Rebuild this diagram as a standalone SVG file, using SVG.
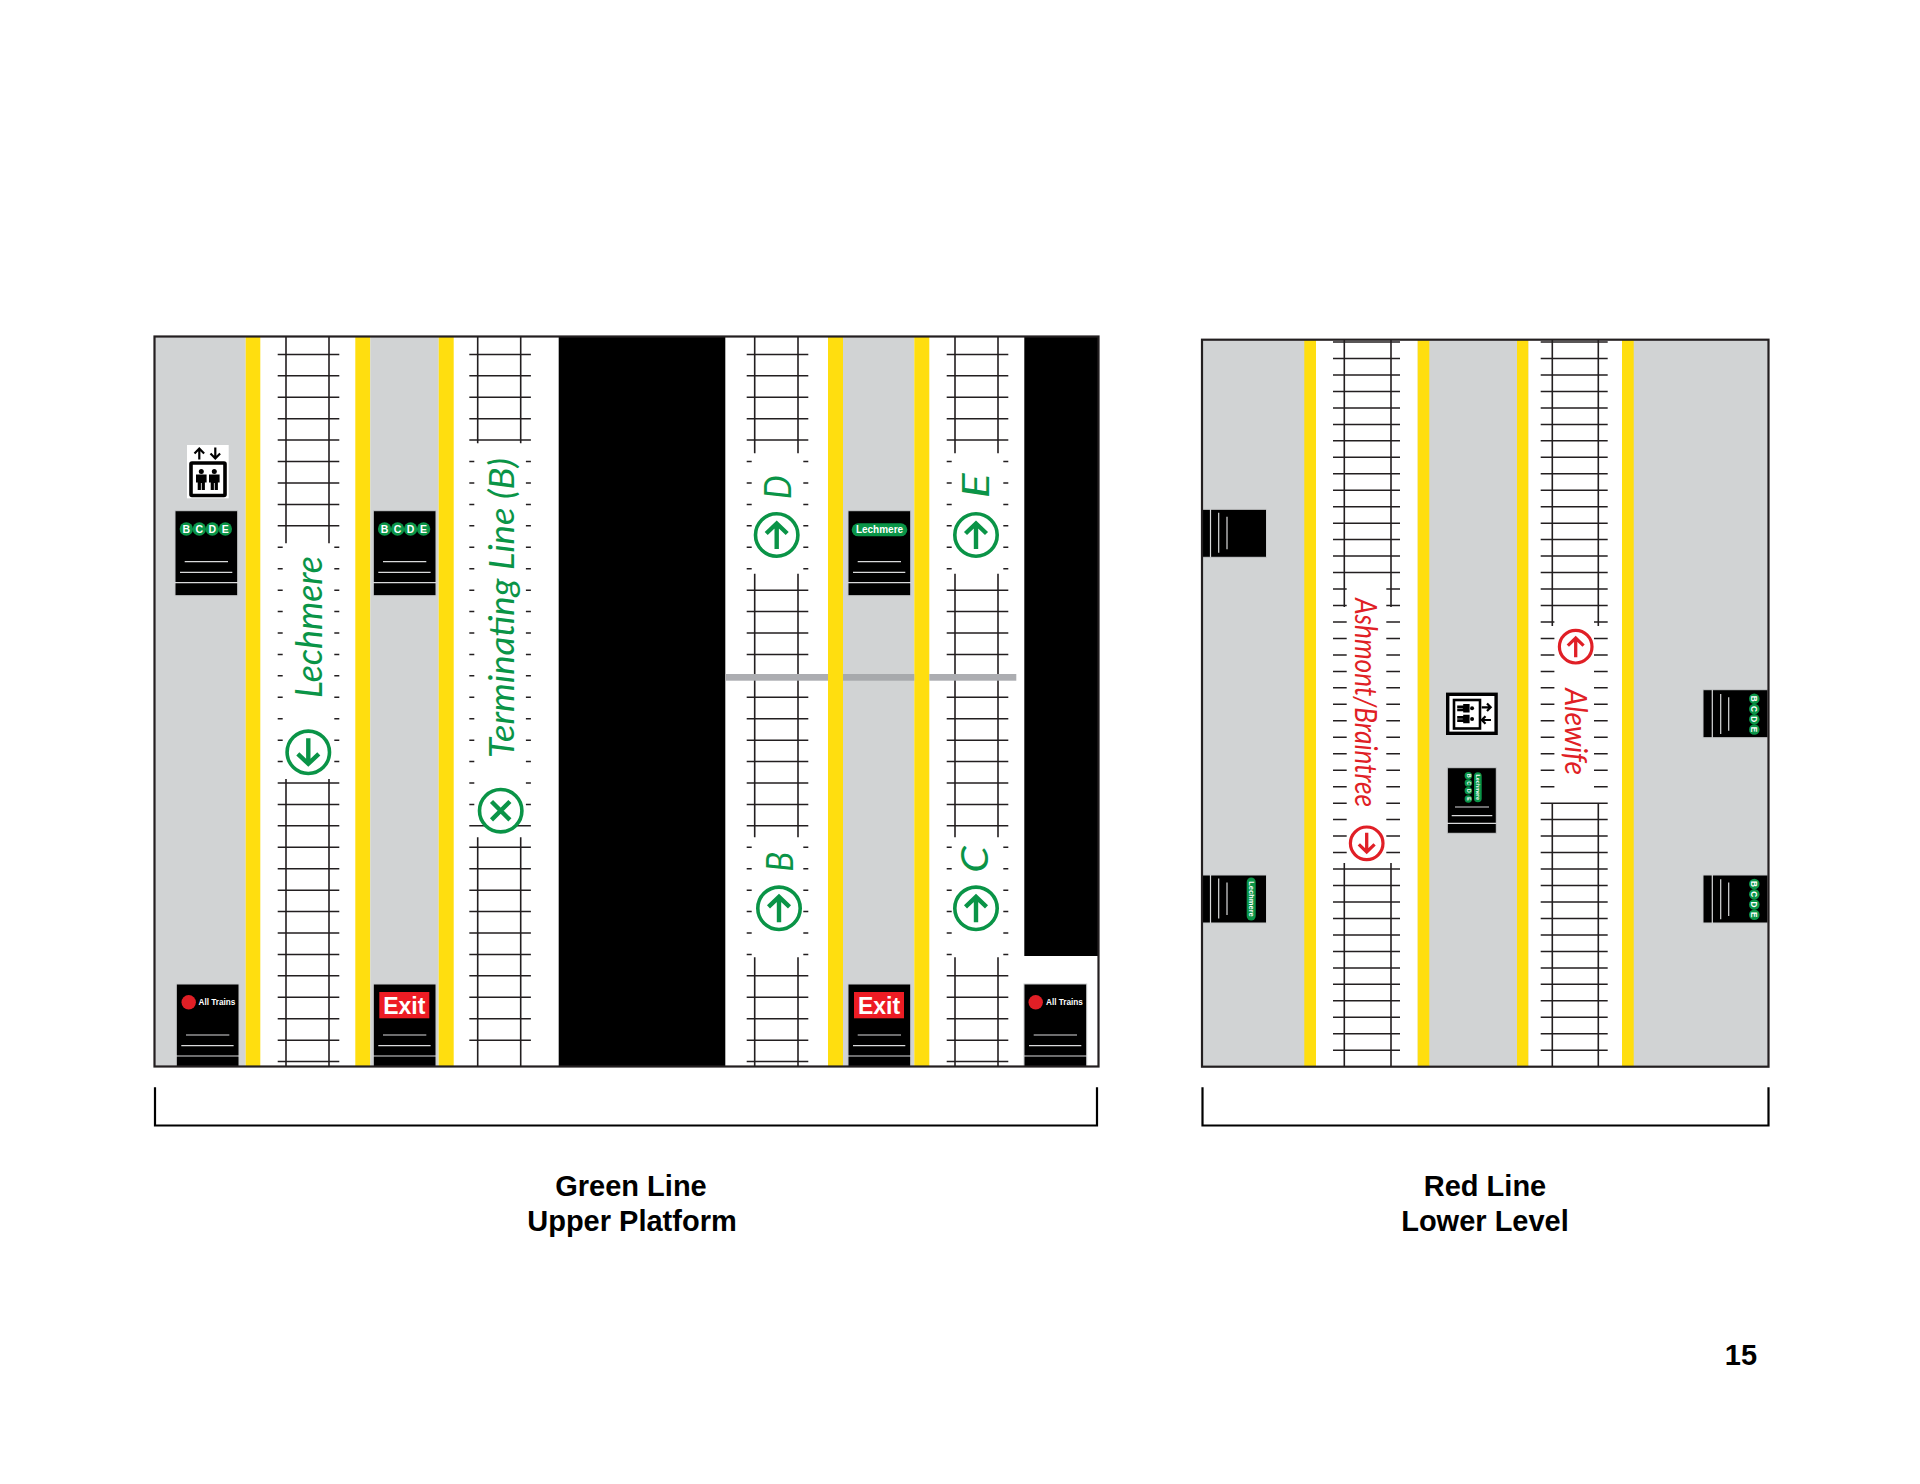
<svg xmlns="http://www.w3.org/2000/svg" xmlns:xlink="http://www.w3.org/1999/xlink" width="1920" height="1484" viewBox="0 0 1920 1484">
<style>
.grey{fill:#d1d3d4}.yel{fill:#ffde0f}.blk{fill:#000}.wht{fill:#fff}
.ties{fill:none;stroke:#231f20;stroke-width:1.5}
.rail{fill:none;stroke:#231f20;stroke-width:1.6}
.body{fill:#000;stroke:#c8cacb;stroke-width:1}
.sl{stroke:#d9dadb;stroke-width:1.2;fill:none}
.border{fill:none;stroke:#231f20;stroke-width:2.2}
.hand{font-family:"Lato","Noto Sans",sans-serif;font-style:italic}
.g{fill:#0a9447}.r{fill:#e01f26}
.ring-g{fill:#fff;stroke:#0a9447;stroke-width:3.6}
.ring-r{fill:#fff;stroke:#e01f26;stroke-width:3.2}
.ar-g{fill:none;stroke:#0a9447;stroke-width:4.4}
.ar-r{fill:none;stroke:#e01f26;stroke-width:4.4}
.lab{font-family:"Liberation Sans",Arial,sans-serif;font-weight:bold;fill:#000;font-size:29px;text-anchor:middle}
.sg{font-family:"Liberation Sans",Arial,sans-serif;font-weight:bold;fill:#fff;text-anchor:middle}
.ic{fill:none;stroke:#000;stroke-width:2.2}
</style>
<defs>
<g id="up"><path d="M0 14V-11M-10.5 -1.5L0 -11.500L10.500 -1.500"/></g>
<g id="person"><circle cx="0" cy="2.400" r="2.500" fill="#000"/><path d="M-5.300 5.500h10.600v8h-1.700V21h-3.200v-7h-.8v7h-3.200V13.500h-1.700z" fill="#000"/></g>
<g id="bcde"><circle cx="0" cy="0" r="6.700" class="g"/><circle cx="13" cy="0" r="6.700" class="g"/><circle cx="26" cy="0" r="6.700" class="g"/><circle cx="39" cy="0" r="6.700" class="g"/>
<text x="0" y="3.700" font-size="10.500" class="sg">B</text><text x="13" y="3.700" font-size="10.500" class="sg">C</text><text x="26" y="3.700" font-size="10.500" class="sg">D</text><text x="39" y="3.700" font-size="10.500" class="sg">E</text></g>
<g id="sign"><rect class="body" x="0" y="0" width="62.700" height="85"/><path class="sl" d="M-.5 72H63.200M9.700 51H53M5 61.600H57.300"/></g>
<g id="signb"><rect class="body" x="0" y="0" width="62.700" height="82.500"/><path class="sl" d="M-.5 72H63.200M9.700 51H53M5 61.600H57.300"/></g>
<g id="signh"><rect class="body" x="0" y="0" width="64" height="48"/><path class="sl" d="M8 0V48M16.200 3.500V43.500M24.500 7.500V40"/></g>
<g id="signh2"><rect class="body" x="0" y="0" width="65" height="48"/><path class="sl" d="M9.300 0V48M17.700 4.300V44.300M25.700 7.500V41"/></g>
</defs>

<g id="green-platform">
<rect class="wht" x="155" y="337" width="943.500" height="729"/>
<rect class="grey" x="155" y="337" width="90.700" height="729"/>
<rect class="yel" x="245.700" y="337" width="14.600" height="729"/>
<rect class="yel" x="355.300" y="337" width="15" height="729"/>
<rect class="grey" x="370.300" y="337" width="68.400" height="729"/>
<rect class="yel" x="438.700" y="337" width="15" height="729"/>
<rect class="blk" x="558.700" y="337" width="166.600" height="729"/>
<rect class="yel" x="828" y="337" width="15" height="729"/>
<rect class="grey" x="843" y="337" width="71.300" height="729"/>
<rect class="yel" x="914.300" y="337" width="15" height="729"/>
<rect class="blk" x="1024.300" y="337" width="74.200" height="619"/>
</g>

<g id="green-tracks">
<path class="ties" transform="translate(277.700 354.400)" d="M0 0h61.600m-61.600 21.430h61.600m-61.600 21.430h61.600m-61.600 21.430h61.600m-61.600 21.430h61.600m-61.600 21.430h61.600m-61.600 21.430h61.600m-61.600 21.430h61.600m-61.600 21.430h61.600m-61.600 21.430h5m51.600 0h5m-61.600 21.430h5m51.600 0h5m-61.600 21.430h5m51.600 0h5m-61.600 21.430h5m51.600 0h5m-61.600 21.430h5m51.600 0h5m-61.600 21.430h5m51.600 0h5m-61.600 21.430h5m51.600 0h5m-61.600 21.430h5m51.600 0h5m-61.600 21.430h5m51.600 0h5m-61.600 21.430h5m51.600 0h5m-61.600 21.430h5m51.600 0h5m-61.600 21.430h61.600m-61.600 21.430h61.600m-61.600 21.430h61.600m-61.600 21.430h61.600m-61.600 21.430h61.600m-61.600 21.430h61.600m-61.600 21.430h61.600m-61.600 21.430h61.600m-61.600 21.430h61.600m-61.600 21.430h61.600m-61.600 21.430h61.600m-61.600 21.430h61.600m-61.600 21.430h61.600m-61.600 21.430h61.600"/>
<path class="rail" d="M286 337V543.300M329 337V543.300M286 779V1066M329 779V1066"/>

<path class="ties" transform="translate(469.300 354.400)" d="M0 0h61.600m-61.600 21.430h61.600m-61.600 21.430h61.600m-61.600 21.430h61.600m-61.600 21.430h61.600m-61.600 21.430h5m51.600 0h5m-61.600 21.430h5m51.600 0h5m-61.600 21.430h5m51.600 0h5m-61.600 21.430h5m51.600 0h5m-61.600 21.430h5m51.600 0h5m-61.600 21.430h5m51.600 0h5m-61.600 21.430h5m51.600 0h5m-61.600 21.430h5m51.600 0h5m-61.600 21.430h5m51.600 0h5m-61.600 21.430h5m51.600 0h5m-61.600 21.430h5m51.600 0h5m-61.600 21.430h5m51.600 0h5m-61.600 21.430h5m51.600 0h5m-61.600 21.430h5m51.600 0h5m-61.600 21.430h5m51.600 0h5m-61.600 21.430h5m51.600 0h5m-61.600 21.430h5m51.600 0h5m-61.600 21.430h61.600m-61.600 21.430h61.600m-61.600 21.430h61.600m-61.600 21.430h61.600m-61.600 21.430h61.600m-61.600 21.430h61.600m-61.600 21.430h61.600m-61.600 21.430h61.600m-61.600 21.430h61.600m-61.600 21.430h61.600m-61.600 21.430h61.600"/>
<path class="rail" d="M477.700 337V443.300M520.700 337V443.300M477.700 837.300V1066M520.700 837.300V1066"/>

<path id="t3" class="ties" transform="translate(746.700 354.400)" d="M0 0h61.600m-61.600 21.430h61.600m-61.600 21.430h61.600m-61.600 21.430h61.600m-61.600 21.430h61.600m-61.600 21.430h5m51.600 0h5m-61.600 21.430h5m51.600 0h5m-61.600 21.430h5m51.600 0h5m-61.600 21.430h5m51.600 0h5m-61.600 21.430h5m51.600 0h5m-61.600 21.430h5m51.600 0h5m-61.600 21.430h61.600m-61.600 21.430h61.600m-61.600 21.430h61.600m-61.600 21.430h61.600m-61.600 21.430h61.600m-61.600 21.430h61.600m-61.600 21.430h61.600m-61.600 21.430h61.600m-61.600 21.430h61.600m-61.600 21.430h61.600m-61.600 21.430h61.600m-61.600 21.430h61.600m-61.600 21.430h5m51.600 0h5m-61.600 21.430h5m51.600 0h5m-61.600 21.430h5m51.600 0h5m-61.600 21.430h5m51.600 0h5m-61.600 21.430h5m51.600 0h5m-61.600 21.430h5m51.600 0h5m-61.600 21.430h61.600m-61.600 21.430h61.600m-61.600 21.430h61.600m-61.600 21.430h61.600m-61.600 21.430h61.600"/>
<path class="rail" d="M754.700 337V453.300M798 337V453.300M754.700 573.700V837.300M798 573.700V837.300M754.700 957.300V1066M798 957.300V1066"/>

<use xlink:href="#t3" href="#t3" x="200"/>
<path class="rail" d="M955 337V453.300M998 337V453.300M955 573.700V837.300M998 573.700V837.300M955 957.300V1066M998 957.300V1066"/>

<rect x="726" y="674" width="102" height="6.700" fill="#acadb1"/>
<rect x="843" y="674" width="71.300" height="6.700" fill="#a7a9ac"/>
<rect x="929.300" y="674" width="87" height="6.700" fill="#acadb1"/>
</g>

<g id="elevator-green">
<rect x="187" y="445" width="41.700" height="53.300" fill="#fff"/>
<rect x="191" y="463" width="34" height="32.500" rx="1" fill="#fff" stroke="#000" stroke-width="3.600"/>
<path class="ic" stroke-width="2.800" d="M199.300 459.500V449M194.500 453.500L199.300 448.500L204.100 453.500M215.300 447.500V458M210.500 453.500L215.300 458.500L220.100 453.500"/>
<use xlink:href="#person" href="#person" x="201.300" y="469"/>
<use xlink:href="#person" href="#person" x="214.300" y="469"/>
</g>

<g id="sign-bcde-1"><use xlink:href="#sign" href="#sign" x="175" y="510.700"/><use xlink:href="#bcde" href="#bcde" x="186.300" y="529"/></g>
<g id="sign-bcde-2"><use xlink:href="#sign" href="#sign" x="373.300" y="510.700"/><use xlink:href="#bcde" href="#bcde" x="384.600" y="529"/></g>
<g id="sign-lechmere"><use xlink:href="#sign" href="#sign" x="848" y="510.700"/><rect x="851.700" y="523.300" width="55.600" height="13" rx="6.500" class="g"/><text x="879.500" y="533.300" font-size="10" class="sg">Lechmere</text></g>
<g id="sign-alltrains-1"><use xlink:href="#signb" href="#signb" x="176.300" y="984"/><circle cx="188.700" cy="1002.300" r="7.200" class="r"/><text x="217" y="1005" font-size="8.200" class="sg">All Trains</text></g>
<g id="sign-exit-1"><use xlink:href="#signb" href="#signb" x="373.300" y="984"/><rect x="379.300" y="992" width="50" height="26.300" fill="#ed1c24"/><text x="404.300" y="1014" font-size="23" class="sg">Exit</text></g>
<g id="sign-exit-2"><use xlink:href="#signb" href="#signb" x="848" y="984"/><rect x="854" y="992" width="50" height="26.300" fill="#ed1c24"/><text x="879" y="1014" font-size="23" class="sg">Exit</text></g>
<g id="sign-alltrains-2"><use xlink:href="#signb" href="#signb" x="1024" y="984"/><circle cx="1035.700" cy="1002.300" r="7.200" class="r"/><text x="1064.500" y="1005" font-size="8.200" class="sg">All Trains</text></g>

<g id="labels-green">
<text class="hand g" font-size="37" transform="translate(322 698) rotate(-90)" textLength="142" lengthAdjust="spacingAndGlyphs">Lechmere</text>
<text class="hand g" font-size="34" transform="translate(514 758) rotate(-90)" textLength="300" lengthAdjust="spacingAndGlyphs">Terminating Line (B)</text>
<text class="hand g" font-size="36" transform="translate(791 499.300) rotate(-90)" textLength="24" lengthAdjust="spacingAndGlyphs">D</text>
<text class="hand g" font-size="36" transform="translate(989.300 498.300) rotate(-90)" textLength="25" lengthAdjust="spacingAndGlyphs">E</text>
<text class="hand g" font-size="36" transform="translate(793.300 871.700) rotate(-90)" textLength="20" lengthAdjust="spacingAndGlyphs">B</text>
<text class="hand g" font-size="36" transform="translate(988.300 872.700) rotate(-90)" textLength="26.600" lengthAdjust="spacingAndGlyphs">C</text>
<g id="dir-lechmere"><circle class="ring-g" cx="308.300" cy="752.300" r="21.200"/><use class="ar-g" xlink:href="#up" href="#up" transform="translate(308.300 752.300) rotate(180)"/></g>
<g id="dir-terminating"><circle class="ring-g" cx="500.700" cy="810.700" r="21.200"/><path class="ar-g" d="M491.500 801.500L509.900 819.900M509.900 801.500L491.500 819.900"/></g>
<g id="dir-d"><circle class="ring-g" cx="776.700" cy="535" r="21.200"/><use class="ar-g" xlink:href="#up" href="#up" transform="translate(776.700 535)"/></g>
<g id="dir-e"><circle class="ring-g" cx="976" cy="535" r="21.200"/><use class="ar-g" xlink:href="#up" href="#up" transform="translate(976 535)"/></g>
<g id="dir-b"><circle class="ring-g" cx="779" cy="908.300" r="21.200"/><use class="ar-g" xlink:href="#up" href="#up" transform="translate(779 908.300)"/></g>
<g id="dir-c"><circle class="ring-g" cx="976" cy="908.300" r="21.200"/><use class="ar-g" xlink:href="#up" href="#up" transform="translate(976 908.300)"/></g>
</g>
<rect id="green-frame" class="border" x="154.500" y="336.500" width="944" height="730"/>

<g id="red-platform">
<rect class="grey" x="1202" y="340" width="566" height="726"/>
<rect class="yel" x="1304.300" y="340" width="11.700" height="726"/>
<rect class="wht" x="1316" y="340" width="101.700" height="726"/>
<rect class="yel" x="1417.700" y="340" width="11.600" height="726"/>
<rect class="yel" x="1517" y="340" width="11.500" height="726"/>
<rect class="wht" x="1528.500" y="340" width="93.500" height="726"/>
<rect class="yel" x="1622" y="340" width="11.700" height="726"/>
</g>

<g id="red-tracks">
<path class="ties" stroke-width="1.400" d="M1333 342h67M1333 358.500h67M1333 374.900h67M1333 391.400h67M1333 407.900h67M1333 424.400h67M1333 440.800h67M1333 457.300h67M1333 473.800h67M1333 490.200h67M1333 506.700h67M1333 523.200h67M1333 539.600h67M1333 556.100h67M1333 572.600h67M1333 869h67M1333 885.500h67M1333 902h67M1333 918.500h67M1333 934.900h67M1333 951.400h67M1333 967.900h67M1333 984.300h67M1333 1000.800h67M1333 1017.300h67M1333 1033.800h67M1333 1050.200h67"/>
<path class="ties" stroke-width="1.400" d="M1333 589h13.700M1386.300 589h13.700M1333 605.500h13.700M1386.300 605.500h13.700M1333 622h13.700M1386.300 622h13.700M1333 638.400h13.700M1386.300 638.400h13.700M1333 654.900h13.700M1386.300 654.900h13.700M1333 671.400h13.700M1386.300 671.400h13.700M1333 687.800h13.700M1386.300 687.800h13.700M1333 704.300h13.700M1386.300 704.300h13.700M1333 720.800h13.700M1386.300 720.800h13.700M1333 737.200h13.700M1386.300 737.200h13.700M1333 753.700h13.700M1386.300 753.700h13.700M1333 770.200h13.700M1386.300 770.200h13.700M1333 786.700h13.700M1386.300 786.700h13.700M1333 803.200h13.700M1386.300 803.200h13.700M1333 819.600h13.700M1386.300 819.600h13.700M1333 836.100h13.700M1386.300 836.100h13.700M1333 852.600h13.700M1386.300 852.600h13.700"/>
<path class="rail" d="M1344.300 340V607M1391 340V607M1344.300 863V1066M1391 863V1066"/>
<path class="ties" stroke-width="1.400" d="M1540.700 342h67M1540.700 358.500h67M1540.700 374.900h67M1540.700 391.400h67M1540.700 407.900h67M1540.700 424.400h67M1540.700 440.800h67M1540.700 457.300h67M1540.700 473.800h67M1540.700 490.200h67M1540.700 506.700h67M1540.700 523.200h67M1540.700 539.600h67M1540.700 556.100h67M1540.700 572.600h67M1540.700 589h67M1540.700 605.500h67M1540.700 803.200h67M1540.700 819.600h67M1540.700 836.100h67M1540.700 852.600h67M1540.700 869h67M1540.700 885.500h67M1540.700 902h67M1540.700 918.500h67M1540.700 934.900h67M1540.700 951.400h67M1540.700 967.900h67M1540.700 984.300h67M1540.700 1000.800h67M1540.700 1017.300h67M1540.700 1033.800h67M1540.700 1050.200h67"/>
<path class="ties" stroke-width="1.400" d="M1540.700 622h13.700M1594 622h13.700M1540.700 638.400h13.700M1594 638.400h13.700M1540.700 654.900h13.700M1594 654.900h13.700M1540.700 671.400h13.700M1594 671.400h13.700M1540.700 687.800h13.700M1594 687.800h13.700M1540.700 704.300h13.700M1594 704.300h13.700M1540.700 720.800h13.700M1594 720.800h13.700M1540.700 737.200h13.700M1594 737.200h13.700M1540.700 753.700h13.700M1594 753.700h13.700M1540.700 770.200h13.700M1594 770.200h13.700M1540.700 786.700h13.700M1594 786.700h13.700"/>
<path class="rail" d="M1552.300 340V626M1598.300 340V626M1552.300 803V1066M1598.300 803V1066"/>
</g>

<g id="labels-red">
<text class="hand r" font-size="30" transform="translate(1355 598) rotate(90)" textLength="209" lengthAdjust="spacingAndGlyphs">Ashmont/Braintree</text>
<text class="hand r" font-size="30" transform="translate(1565 688.300) rotate(90)" textLength="86.700" lengthAdjust="spacingAndGlyphs">Alewife</text>
<g id="dir-ashmont"><circle class="ring-r" cx="1366.700" cy="843.300" r="16.300"/><use class="ar-r" xlink:href="#up" href="#up" transform="translate(1366.700 843.300) rotate(180) scale(.75)"/></g>
<g id="dir-alewife"><circle class="ring-r" cx="1575.700" cy="646.700" r="16.300"/><use class="ar-r" xlink:href="#up" href="#up" transform="translate(1575.700 646.700) scale(.75)"/></g>
</g>

<g id="elevator-red">
<rect x="1447.700" y="694.300" width="48.400" height="39" fill="#fff" stroke="#000" stroke-width="3.400"/>
<rect x="1454" y="700" width="26" height="28.500" fill="#fff" stroke="#000" stroke-width="2.600"/>
<use xlink:href="#person" href="#person" transform="translate(1474 708.300) rotate(90) scale(.8)"/>
<use xlink:href="#person" href="#person" transform="translate(1474 719) rotate(90) scale(.8)"/>
<path class="ic" stroke-width="1.900" d="M1481.700 707.300H1490.500M1487 703.500L1490.700 707.300L1487 711.100M1491 720H1482M1485.500 716.200L1481.800 720L1485.500 723.800"/>
</g>

<g id="sign-center">
<rect class="body" x="1447.300" y="767.700" width="49" height="65.600"/>
<path class="sl" d="M1447 823.300H1496.500M1455 807H1489M1451.700 815.700H1492.300"/>
<circle cx="1468.300" cy="775.700" r="3.700" class="g"/><circle cx="1468.300" cy="783" r="3.700" class="g"/><circle cx="1468.300" cy="790.700" r="3.700" class="g"/><circle cx="1468.300" cy="799" r="3.700" class="g"/>
<text font-size="5" class="sg" transform="translate(1466.600 775.700) rotate(90)">B</text><text font-size="5" class="sg" transform="translate(1466.600 783) rotate(90)">C</text><text font-size="5" class="sg" transform="translate(1466.600 790.700) rotate(90)">D</text><text font-size="5" class="sg" transform="translate(1466.600 799) rotate(90)">E</text>
<rect x="1474" y="772.300" width="7.700" height="30" rx="3.800" class="g"/>
<text font-size="5.400" class="sg" transform="translate(1476 787.300) rotate(90)">Lechmere</text>
</g>

<g id="sign-left-1"><use xlink:href="#signh" href="#signh" x="1202.500" y="509.300"/></g>
<g id="sign-left-2"><use xlink:href="#signh" href="#signh" x="1202.500" y="875"/>
<rect x="1246.700" y="877.500" width="9" height="43" rx="4.500" class="g"/>
<text font-size="7.500" class="sg" transform="translate(1248.600 899) rotate(90)">Lechmere</text></g>
<g id="sign-right-1"><use xlink:href="#signh2" href="#signh2" x="1703" y="689.700"/>
<g transform="translate(1754.300 698.700) rotate(90) scale(.79)"><use xlink:href="#bcde" href="#bcde"/></g></g>
<g id="sign-right-2"><use xlink:href="#signh2" href="#signh2" x="1703" y="875"/>
<g transform="translate(1754.300 884) rotate(90) scale(.79)"><use xlink:href="#bcde" href="#bcde"/></g></g>

<rect id="red-frame" class="border" x="1202" y="339.700" width="566.500" height="727"/>

<g id="brackets">
<path fill="none" stroke="#000" stroke-width="2.200" d="M155 1087.300V1125.500H1097V1087.300"/>
<path fill="none" stroke="#000" stroke-width="2.200" d="M1202.500 1087.300V1125.500H1768.500V1087.300"/>
</g>

<g id="captions">
<text class="lab" x="631" y="1195.500">Green Line</text>
<text class="lab" x="632" y="1231">Upper Platform</text>
<text class="lab" x="1485" y="1195.500">Red Line</text>
<text class="lab" x="1485" y="1231">Lower Level</text>
<text class="lab" x="1741" y="1364.500">15</text>
</g>
</svg>
